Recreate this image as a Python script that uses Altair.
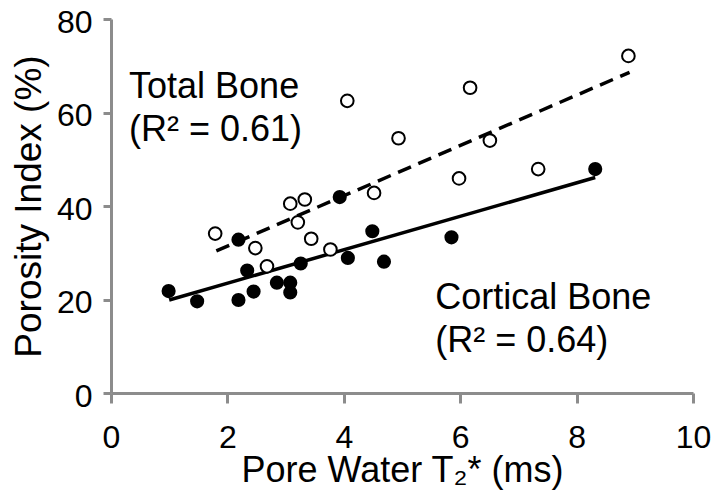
import altair as alt
import pandas as pd

# Cortical bone (filled circles)
cortical_x = [0.99, 1.48, 2.19, 2.19, 2.34, 2.45, 2.85, 3.08, 3.08, 3.26, 3.93, 4.07, 4.49, 4.69, 5.85, 8.32]
cortical_y = [21.8, 19.6, 32.8, 19.9, 26.2, 21.7, 23.6, 23.6, 21.5, 27.7, 41.9, 28.9, 34.6, 28.1, 33.3, 47.9]

# Total bone (open circles)
total_x = [1.79, 2.48, 2.68, 3.08, 3.33, 3.21, 3.44, 3.77, 4.52, 4.06, 4.94, 6.17, 6.51, 5.98, 7.34, 8.89]
total_y = [34.1, 31.0, 27.1, 40.5, 41.4, 36.5, 33.0, 30.7, 42.8, 62.5, 54.5, 65.3, 54.0, 45.9, 47.9, 72.1]

# Trend line end points
cortical_fit_x = [1.0, 8.32]
cortical_fit_y = [19.9, 46.1]
total_fit_x = [1.81, 8.91]
total_fit_y = [30.4, 68.6]

# Annotations
label_x = [0.31, 0.31, 5.57, 5.57]
label_y = [63.2, 53.8, 17.9, 8.7]
label_text = ["Total Bone", "(R² = 0.61)", "Cortical Bone", "(R² = 0.64)"]

x_ticks = [0, 2, 4, 6, 8, 10]
y_ticks = [0, 20, 40, 60, 80]

FONT = "Liberation Sans"

cort = pd.DataFrame({"x": cortical_x, "y": cortical_y})
tot = pd.DataFrame({"x": total_x, "y": total_y})
cfit = pd.DataFrame({"x": cortical_fit_x, "y": cortical_fit_y})
tfit = pd.DataFrame({"x": total_fit_x, "y": total_fit_y})
labels = pd.DataFrame({"x": label_x, "y": label_y, "t": label_text})

xs = alt.Scale(domain=[0, 10], nice=False, zero=False)
ys = alt.Scale(domain=[0, 80], nice=False, zero=False)

X = alt.X("x:Q", scale=xs, axis=alt.Axis(
    values=x_ticks, title="Pore Water T₂* (ms)", labelPadding=19,
    labelFlush=False, titleY=88, titleBaseline="alphabetic", tickSize=10,
    titleFontSize=36))
Y = alt.Y("y:Q", scale=ys, axis=alt.Axis(
    values=y_ticks, title="Porosity Index (%)", labelPadding=11, labelOffset=3,
    titleX=-71, titleBaseline="alphabetic", tickSize=8, titleFontSize=37))

line_c = alt.Chart(cfit).mark_line(color="black", strokeWidth=3.5).encode(x=X, y=Y)
line_t = alt.Chart(tfit).mark_line(color="black", strokeWidth=3.5, strokeDash=[14, 8]).encode(x=X, y=Y)
pts_t = alt.Chart(tot).mark_point(shape="circle", filled=True, fill="white", stroke="black",
                                  strokeWidth=2, size=160, opacity=1).encode(x=X, y=Y)
pts_c = alt.Chart(cort).mark_circle(color="black", size=200, opacity=1).encode(x=X, y=Y)
txt = alt.Chart(labels).mark_text(align="left", baseline="alphabetic", fontSize=36,
                                  font=FONT, color="black").encode(x=X, y=Y, text="t:N")

chart = alt.layer(line_c, line_t, pts_t, pts_c, txt).properties(
    width=582, height=374,
    autosize=alt.AutoSizeParams(type="none"),
    padding={"left": 103, "top": 11, "right": 18, "bottom": 97},
).configure_view(stroke=None).configure_axis(
    grid=False, domainColor="#8c8c8c", domainWidth=3, tickColor="#8c8c8c", tickWidth=3,
    labelFont=FONT, labelFontSize=32, labelColor="black", labelOverlap=False,
    titleFont=FONT, titleFontWeight="normal", titleColor="black",
)

chart.save("out.html", embed_options={"renderer": "svg", "actions": False})
